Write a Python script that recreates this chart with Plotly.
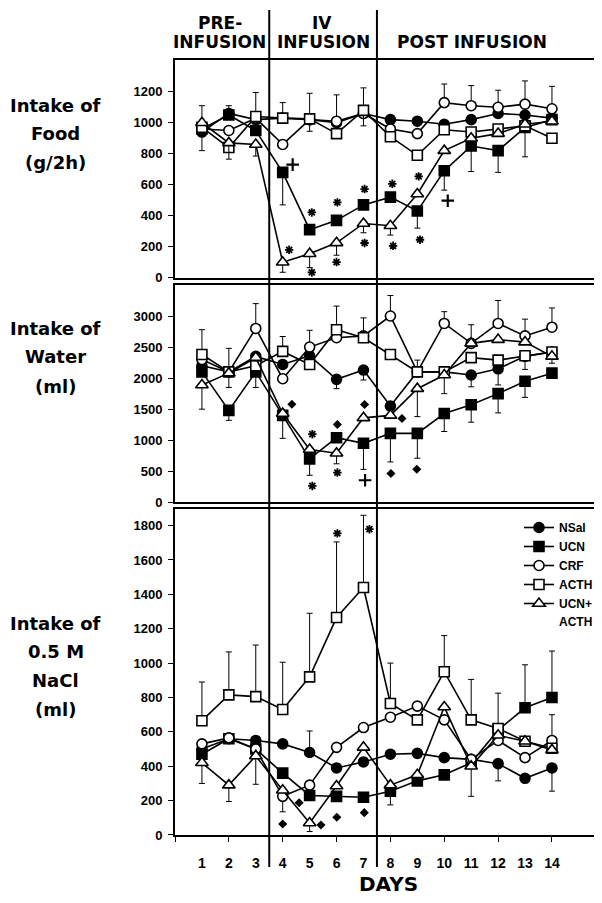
import plotly.graph_objects as go
from plotly.subplots import make_subplots

days = list(range(1, 15))
day_labels = [str(d) for d in days]
series_names = ["NSal", "UCN", "CRF", "ACTH", "UCN+"]

# ---- Food intake (g/2h)
food_nsal = [940, 1060, 1020, 1030, 1020, 1000, 1060, 1020, 1010, 990, 1020, 1060, 1050, 1030]
food_ucn = [960, 1050, 950, 680, 310, 370, 470, 520, 430, 690, 850, 820, 970, 1020]
food_crf = [960, 950, 1030, 860, 1020, 1010, 1060, 960, 930, 1130, 1110, 1100, 1120, 1090]
food_acth = [970, 840, 1040, 1030, 1025, 930, 1080, 910, 790, 955, 940, 960, 980, 900]
food_ua = [1000, 870, 860, 100, 155, 225, 350, 335, 540, 820, 900, 930, 990, 1010]

food_nsal_ep = [0, 50, 0, 100, 0, 0, 0, 0, 0, 0, 0, 0, 0, 0]
food_nsal_em = [120, 0, 0, 0, 0, 0, 0, 0, 0, 0, 0, 0, 0, 0]
food_ucn_ep = [0] * 14
food_ucn_em = [0, 0, 0, 210, 0, 0, 0, 0, 110, 125, 165, 140, 190, 0]
food_crf_ep = [0, 0, 0, 0, 0, 170, 0, 0, 0, 120, 130, 110, 150, 145]
food_crf_em = [0] * 14
food_acth_ep = [0, 0, 155, 0, 165, 0, 145, 0, 0, 0, 0, 0, 0, 0]
food_acth_em = [0, 0, 0, 0, 80, 0, 100, 0, 0, 0, 0, 0, 0, 0]
food_ua_ep = [110, 0, 0, 0, 0, 0, 0, 0, 0, 0, 0, 0, 0, 0]
food_ua_em = [0, 105, 75, 65, 90, 80, 60, 60, 0, 0, 0, 0, 0, 0]

# ---- Water intake (ml)
water_nsal = [2200, 2100, 2350, 2220, 2360, 1980, 2130, 1550, 2100, 2100, 2050, 2150, 2350, 2420]
water_ucn = [2100, 1480, 2100, 1400, 700, 1040, 950, 1110, 1110, 1430, 1570, 1750, 1950, 2080]
water_crf = [2300, 2100, 2800, 1990, 2500, 2650, 2680, 3000, 2100, 2880, 2560, 2880, 2680, 2820]
water_acth = [2380, 2100, 2200, 2430, 2220, 2780, 2650, 2380, 2100, 2100, 2330, 2290, 2360, 2420]
water_ua = [1890, 2080, 2330, 1430, 850, 790, 1360, 1400, 1830, 2050, 2560, 2620, 2580, 2350]

water_nsal_ep = [0] * 14
water_nsal_em = [0, 0, 0, 0, 0, 150, 160, 0, 0, 0, 190, 260, 0, 0]
water_ucn_ep = [0] * 14
water_ucn_em = [0, 160, 250, 0, 265, 0, 420, 460, 400, 290, 280, 310, 260, 0]
water_crf_ep = [0, 0, 400, 0, 270, 0, 0, 330, 0, 190, 0, 370, 270, 310]
water_crf_em = [0] * 14
water_acth_ep = [400, 380, 0, 240, 0, 380, 320, 0, 190, 0, 0, 0, 0, 0]
water_acth_em = [0, 0, 0, 0, 0, 0, 0, 0, 0, 0, 0, 0, 220, 0]
water_ua_ep = [0, 0, 0, 0, 0, 0, 0, 0, 0, 0, 300, 0, 0, 0]
water_ua_em = [390, 230, 0, 400, 0, 170, 0, 0, 450, 300, 0, 0, 0, 110]

# ---- 0.5 M NaCl intake (ml)
nacl_nsal = [500, 560, 550, 530, 480, 390, 425, 470, 475, 450, 440, 415, 330, 390]
nacl_ucn = [470, 560, 500, 360, 230, 225, 220, 255, 315, 350, 420, 610, 740, 800]
nacl_crf = [530, 565, 500, 225, 290, 510, 625, 685, 750, 670, 440, 550, 450, 550]
nacl_acth = [665, 815, 805, 730, 920, 1265, 1440, 765, 670, 950, 670, 620, 545, 505]
nacl_ua = [420, 290, 460, 260, 70, 285, 510, 290, 350, 745, 400, 580, 545, 495]

nacl_nsal_ep = [0, 0, 0, 0, 125, 0, 0, 0, 0, 0, 0, 0, 0, 0]
nacl_nsal_em = [0, 0, 0, 0, 0, 0, 0, 0, 0, 0, 0, 100, 0, 135]
nacl_ucn_ep = [0, 0, 0, 0, 0, 0, 0, 0, 0, 0, 0, 0, 250, 270]
nacl_ucn_em = [0, 0, 0, 0, 0, 0, 0, 80, 0, 0, 0, 0, 0, 0]
nacl_crf_ep = [0, 0, 0, 0, 0, 0, 0, 0, 0, 0, 0, 0, 0, 150]
nacl_crf_em = [0, 0, 0, 90, 0, 0, 0, 0, 0, 0, 0, 0, 0, 0]
nacl_acth_ep = [225, 250, 300, 275, 370, 440, 420, 235, 0, 210, 235, 205, 0, 0]
nacl_acth_em = [0] * 14
nacl_ua_ep = [0] * 14
nacl_ua_em = [120, 95, 165, 0, 50, 0, 0, 0, 0, 0, 175, 0, 0, 0]

# ---- significance marks
food_star_x = [4.24, 5.08, 5.08, 6.03, 6.0, 7.04, 7.04, 8.07, 8.1, 9.05, 9.1]
food_star_y = [180, 421, 34, 486, 101, 572, 224, 606, 206, 654, 245]
food_plus_x = [4.37, 10.13]
food_plus_y = [730, 497]
water_star_x = [5.1, 5.1, 6.03]
water_star_y = [1097, 263, 479]
water_plus_x = [7.06]
water_plus_y = [355]
water_dia_x = [4.34, 6.03, 7.04, 8.43, 8.02, 8.98]
water_dia_y = [1580, 1253, 1576, 1350, 463, 532]
nacl_star_x = [6.03, 7.22]
nacl_star_y = [1755, 1779]
nacl_dia_x = [4.61, 4.0, 5.42, 6.01, 7.03]
nacl_dia_y = [188, 64, 58, 103, 130]

food_ticks = [0, 200, 400, 600, 800, 1000, 1200]
water_ticks = [0, 500, 1000, 1500, 2000, 2500, 3000]
nacl_ticks = [0, 200, 400, 600, 800, 1000, 1200, 1400, 1600, 1800]
phase_bounds = [3.5, 7.5]

styles = [
    dict(symbol="circle", color="black"),
    dict(symbol="square", color="black"),
    dict(symbol="circle", color="white"),
    dict(symbol="square", color="white"),
    dict(symbol="triangle-up", color="white"),
]

panels = [
    ([food_nsal, food_ucn, food_crf, food_acth, food_ua],
     [(food_nsal_ep, food_nsal_em), (food_ucn_ep, food_ucn_em), (food_crf_ep, food_crf_em),
      (food_acth_ep, food_acth_em), (food_ua_ep, food_ua_em)]),
    ([water_nsal, water_ucn, water_crf, water_acth, water_ua],
     [(water_nsal_ep, water_nsal_em), (water_ucn_ep, water_ucn_em), (water_crf_ep, water_crf_em),
      (water_acth_ep, water_acth_em), (water_ua_ep, water_ua_em)]),
    ([nacl_nsal, nacl_ucn, nacl_crf, nacl_acth, nacl_ua],
     [(nacl_nsal_ep, nacl_nsal_em), (nacl_ucn_ep, nacl_ucn_em), (nacl_crf_ep, nacl_crf_em),
      (nacl_acth_ep, nacl_acth_em), (nacl_ua_ep, nacl_ua_em)]),
]

fig = make_subplots(rows=3, cols=1, shared_xaxes=True)

for r, (vals, errs) in enumerate(panels, start=1):
    for i in range(5):
        sz = 11 if styles[i]["symbol"] == "triangle-up" else 10
        fig.add_trace(go.Scatter(
            x=days, y=vals[i], mode="lines+markers", name=series_names[i],
            showlegend=(r == 3),
            line=dict(color="black", width=1.6),
            marker=dict(symbol=styles[i]["symbol"], size=sz, color=styles[i]["color"],
                        line=dict(color="black", width=1.6)),
            error_y=dict(type="data", symmetric=False, array=errs[i][0], arrayminus=errs[i][1],
                         color="black", thickness=1, width=3),
        ), row=r, col=1)


def add_marks(xs, ys, kind, row):
    if kind == "star":
        m = dict(symbol="asterisk-open", size=7, line=dict(color="black", width=1.8), color="black")
    elif kind == "plus":
        m = dict(symbol="cross-thin-open", size=9, line=dict(color="black", width=2.2), color="black")
    else:
        m = dict(symbol="diamond", size=7, color="black", line=dict(width=0))
    fig.add_trace(go.Scatter(x=xs, y=ys, mode="markers", marker=m, showlegend=False,
                             hoverinfo="skip"), row=row, col=1)


add_marks(food_star_x, food_star_y, "star", 1)
add_marks(food_plus_x, food_plus_y, "plus", 1)
add_marks(water_star_x, water_star_y, "star", 2)
add_marks(water_plus_x, water_plus_y, "plus", 2)
add_marks(water_dia_x, water_dia_y, "dia", 2)
add_marks(nacl_star_x, nacl_star_y, "star", 3)
add_marks(nacl_dia_x, nacl_dia_y, "dia", 3)

tickfont = dict(family="Liberation Sans, Arial", size=13, color="black", weight="bold")
yaxis_common = dict(showline=True, linecolor="black", linewidth=2, mirror=True,
                    ticks="outside", ticklen=5, tickwidth=1, tickcolor="black",
                    showgrid=False, zeroline=False, tickfont=tickfont, ticklabelstandoff=3)

fig.update_yaxes(**yaxis_common)
fig.update_yaxes(range=[0, 1405], tickvals=food_ticks, domain=[0.7191, 1.0], row=1, col=1)
fig.update_yaxes(range=[0, 3500], tickvals=water_ticks, domain=[0.4293, 0.7097], row=2, col=1)
fig.update_yaxes(range=[0, 1895], tickvals=nacl_ticks, domain=[0.0, 0.4203], row=3, col=1)

xaxis_common = dict(range=[0, 15.71], showline=True, linecolor="black", linewidth=2, mirror=True,
                    showgrid=False, zeroline=False, ticks="", showticklabels=False)
fig.update_xaxes(**xaxis_common)
fig.update_xaxes(showticklabels=True, tickvals=days, ticktext=day_labels,
                 tickfont=dict(family="Liberation Sans, Arial", size=14, color="black", weight="bold"),
                 ticklabelstandoff=14,
                 minor=dict(tickvals=[0, 2, 4, 6, 8, 10, 12, 14], ticks="outside", ticklen=5,
                            tickwidth=1, tickcolor="black"),
                 row=3, col=1)

for b in phase_bounds:
    fig.add_shape(type="line", xref="x3", yref="paper", x0=b, x1=b, y0=-0.0413, y1=1.0645,
                  line=dict(color="black", width=2))

hfont = dict(family="DejaVu Sans", size=17, color="black", weight="bold")
headers = [("PRE-", 1.67, 23), ("INFUSION", 1.67, 42), ("IV", 5.46, 23),
           ("INFUSION", 5.5, 42), ("POST INFUSION", 11.03, 42)]
for txt, xd, py in headers:
    fig.add_annotation(text=txt, x=xd, xref="x3", y=(835 - py) / 775, yref="paper",
                       showarrow=False, font=hfont, xanchor="center", yanchor="middle")

tfont = dict(family="DejaVu Sans", size=18, color="black", weight="bold")
titles = [("Intake of", 105), ("Food", 134), ("(g/2h)", 162),
          ("Intake of", 328), ("Water", 357), ("(ml)", 386),
          ("Intake of", 623), ("0.5 M", 651), ("NaCl", 680), ("(ml)", 709)]
for txt, py in titles:
    fig.add_annotation(text=txt, x=(56 - 175) / 423, xref="paper", y=(835 - py) / 775, yref="paper",
                       showarrow=False, font=tfont, xanchor="center", yanchor="middle")

legfont = dict(family="Liberation Sans, Arial", size=12, color="black", weight="bold")
# second line of the last legend entry ("UCN+ / ACTH")
fig.add_annotation(text="ACTH", x=(557 - 175) / 423, xref="paper", y=(835 - 622) / 775, yref="paper",
                   showarrow=False, font=legfont, xanchor="left", yanchor="middle")

fig.add_annotation(text="DAYS", x=(388 - 175) / 423, xref="paper", y=(835 - 884) / 775, yref="paper",
                   showarrow=False, xanchor="center", yanchor="middle",
                   font=dict(family="DejaVu Sans", size=20, color="black", weight="bold"))

fig.update_layout(
    width=594, height=887,
    margin=dict(l=167, r=4, t=52, b=60, autoexpand=False),
    paper_bgcolor="white", plot_bgcolor="white",
    legend=dict(x=(519 - 175) / 423, y=(835 - 513) / 775, xanchor="left", yanchor="top",
                bgcolor="rgba(0,0,0,0)", borderwidth=0, tracegroupgap=0, font=legfont),
)

fig.write_html("out.html")
